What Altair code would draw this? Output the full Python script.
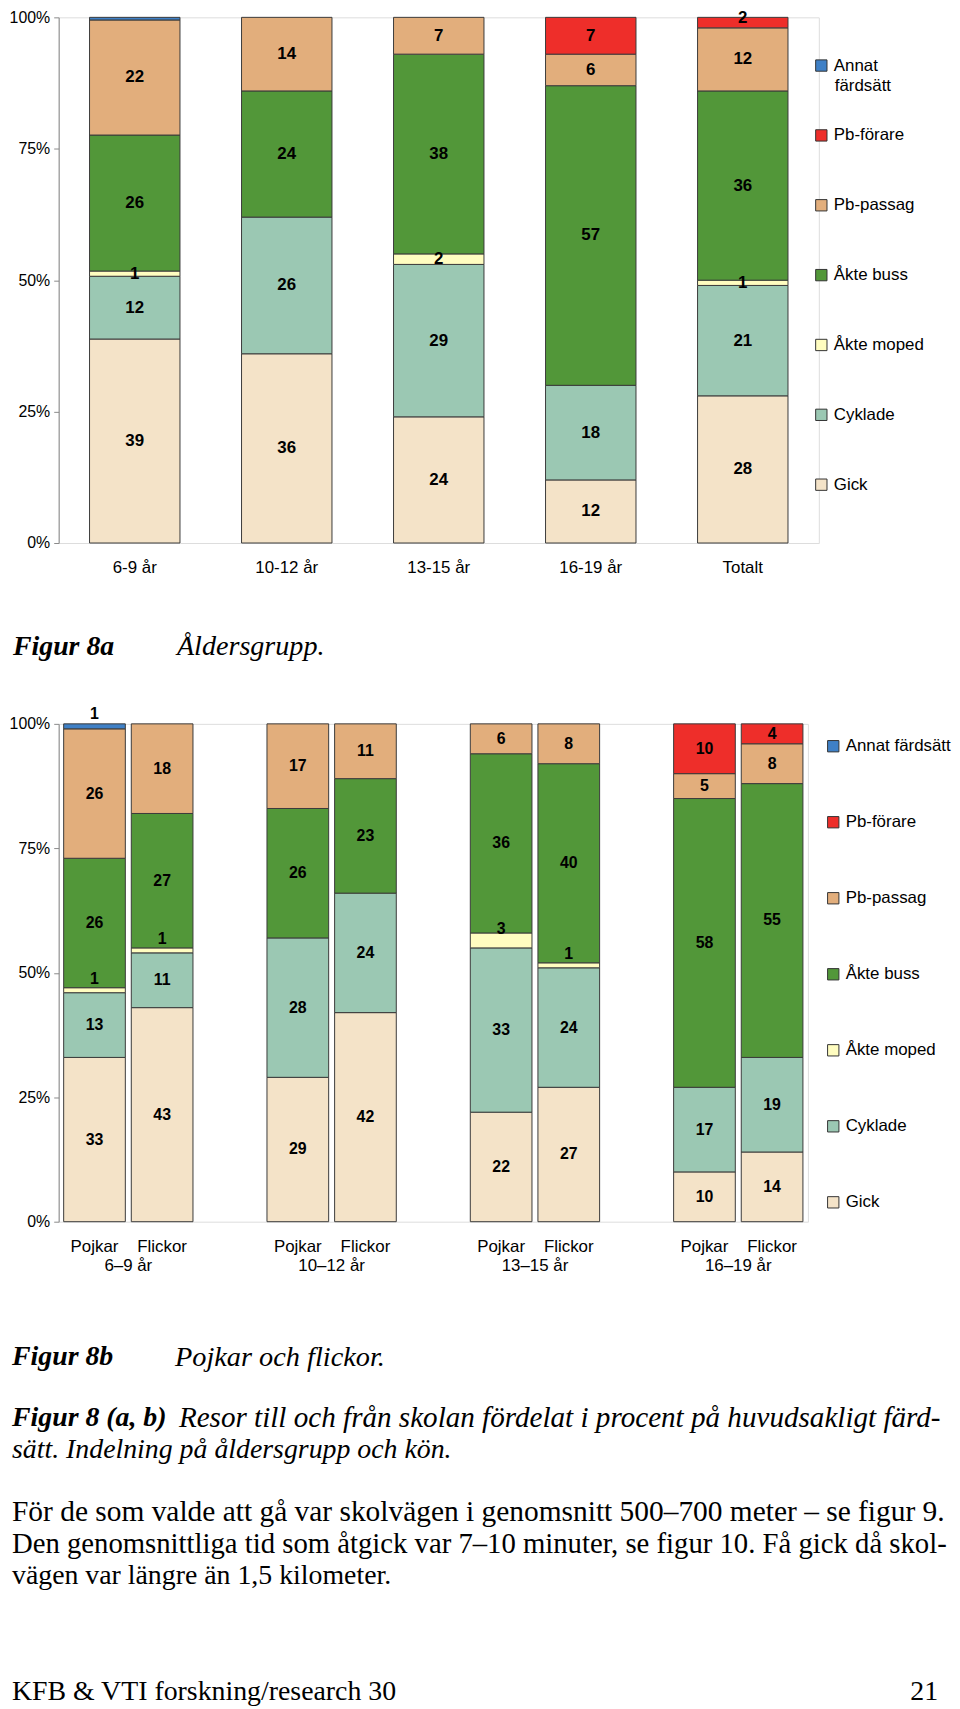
import altair as alt
import pandas as pd

# ---------------- data ----------------
kategorier = ["Gick", "Cyklade", "Åkte moped", "Åkte buss", "Pb-passag", "Pb-förare", "Annat färdsätt"]
legend_order = ["Annat färdsätt", "Pb-förare", "Pb-passag", "Åkte buss", "Åkte moped", "Cyklade", "Gick"]
legend_colors = ["#3F80C6", "#EE2E2A", "#E2AE7C", "#529739", "#FFFDC0", "#9BC8B3", "#F4E3C8"]

# Figur 8a - åldersgrupp
alder_a = ["6-9 år", "10-12 år", "13-15 år", "16-19 år", "Totalt"]
a_gick = [39, 36, 24, 12, 28]
a_cyklade = [12, 26, 29, 18, 21]
a_moped = [1, 0, 2, 0, 1]
a_buss = [26, 24, 38, 57, 36]
a_passag = [22, 14, 7, 6, 12]
a_forare = [0, 0, 0, 7, 2]
a_annat = [0.5, 0, 0, 0, 0]

# Figur 8b - pojkar och flickor
alder_b = ["6–9 år", "10–12 år", "13–15 år", "16–19 år"]
kon = ["Pojkar", "Flickor"]
# order: 6-9 P, 6-9 F, 10-12 P, 10-12 F, 13-15 P, 13-15 F, 16-19 P, 16-19 F
b_gick = [33, 43, 29, 42, 22, 27, 10, 14]
b_cyklade = [13, 11, 28, 24, 33, 24, 17, 19]
b_moped = [1, 1, 0, 0, 3, 1, 0, 0]
b_buss = [26, 27, 26, 23, 36, 40, 58, 55]
b_passag = [26, 18, 17, 11, 6, 8, 5, 8]
b_forare = [0, 0, 0, 0, 0, 0, 10, 4]
b_annat = [1, 0, 0, 0, 0, 0, 0, 0]

cap_a = ["Figur 8a", "Åldersgrupp."]
cap_b = ["Figur 8b", "Pojkar och flickor."]
fig_caption = ["Figur 8 (a, b)",
               "Resor till och från skolan fördelat i procent på huvudsakligt färd-",
               "sätt. Indelning på åldersgrupp och kön."]
paragraph = ["För de som valde att gå var skolvägen i genomsnitt 500–700 meter – se figur 9.",
             "Den genomsnittliga tid som åtgick var 7–10 minuter, se figur 10. Få gick då skol-",
             "vägen var längre än 1,5 kilometer."]
footer = ["KFB & VTI forskning/research 30", "21"]

# ---------------- tables ----------------
series_a = [a_gick, a_cyklade, a_moped, a_buss, a_passag, a_forare, a_annat]
rows = []
for gi, g in enumerate(alder_a):
    for ci, k in enumerate(kategorier):
        rows.append({"grupp": g, "kategori": k, "ord": ci, "value": series_a[ci][gi]})
df_a = pd.DataFrame(rows)

series_b = [b_gick, b_cyklade, b_moped, b_buss, b_passag, b_forare, b_annat]
rows = []
i = 0
for a in alder_b:
    for s in kon:
        for ci, k in enumerate(kategorier):
            rows.append({"alder": a, "kon": s, "grupp": a + "|" + s, "kategori": k,
                         "ord": ci, "value": series_b[ci][i]})
        i += 1
df_b = pd.DataFrame(rows)

FONT = "Liberation Sans"
SERIF = "Liberation Serif"

color_scale = alt.Scale(domain=legend_order, range=legend_colors)

y_axis = alt.Axis(title=None, format="%", values=[0, 0.25, 0.5, 0.75, 1], grid=False,
                  domainColor="#8a8a8a", tickColor="#8a8a8a", tickSize=5,
                  labelFontSize=16, labelPadding=4, labelColor="black", labelFont=FONT)


def text_layer(txt, x, y, size=28, weight="normal", style="normal", align="left", font=SERIF):
    return alt.Chart(pd.DataFrame({"t": [txt]})).mark_text(
        align=align, baseline="middle", fontSize=size, fontWeight=weight,
        fontStyle=style, font=font, color="black"
    ).encode(text="t:N", x=alt.value(x), y=alt.value(y))


# ---------------- chart a ----------------
W_A, H_A = 765, 529
base_a = alt.Chart(df_a).transform_filter("datum.value > 0").transform_stack(
    stack="value", groupby=["grupp"], as_=["y0", "y1"],
    sort=[alt.SortField("ord", order="ascending")], offset="normalize"
).transform_calculate(
    ly="datum.y1 > 0.995 && datum.value < 3 ? datum.y1 - 0.001 : (datum.y0 + datum.y1) / 2",
    txt="datum.value >= 1 ? format(datum.value, 'd') : ''"
)
x_a = alt.X("grupp:N", sort=alder_a,
            scale=alt.Scale(paddingInner=0.405, paddingOuter=0.203),
            axis=alt.Axis(title=None, labelAngle=0, ticks=False, tickSize=0, domain=False,
                          labelFontSize=17, labelPadding=17, labelColor="black", labelFont=FONT))
bars_a = base_a.mark_bar(stroke="#3a3a3a", strokeWidth=1).encode(
    x=x_a,
    y=alt.Y("y0:Q", scale=alt.Scale(domain=[0, 1]), axis=y_axis),
    y2="y1:Q",
    color=alt.Color("kategori:N", scale=color_scale, legend=alt.Legend(
        title=None, orient="none", legendX=759, legendY=40, symbolType="square",
        symbolSize=130, symbolStrokeColor="#333", symbolStrokeWidth=1, symbolOpacity=1,
        labelFontSize=17, labelFont=FONT, labelColor="black", rowPadding=52.3,
        labelExpr="datum.label == 'Annat färdsätt' ? 'Annat' : datum.label"))
)
labels_a = base_a.mark_text(fontWeight="bold", fontSize=17, font=FONT, color="black",
                            baseline="middle").encode(
    x=alt.X("grupp:N", sort=alder_a), y=alt.Y("ly:Q"), text="txt:N")

chart_a = alt.layer(
    bars_a, labels_a,
    text_layer("färdsätt", 781, 69, size=17, font=FONT),
    text_layer(cap_a[0], -46, 634, size=28, weight="bold", style="italic"),
    text_layer(cap_a[1], 119, 634, size=28.3, style="italic"),
).properties(width=W_A, height=H_A)

# ---------------- chart b ----------------
W_B, H_B = 754, 501
base_b = alt.Chart(df_b).transform_filter("datum.value > 0").transform_stack(
    stack="value", groupby=["grupp"], as_=["y0", "y1"],
    sort=[alt.SortField("ord", order="ascending")], offset="normalize"
).transform_calculate(
    ly="datum.y1 > 0.995 && datum.value < 3 ? datum.y1 + 0.02 : "
       "(datum.kategori == 'Åkte moped' ? (datum.y0 + datum.y1) / 2 + 0.022 : (datum.y0 + datum.y1) / 2)",
    txt="datum.value >= 1 ? format(datum.value, 'd') : ''"
)
x_b = alt.X("alder:N", sort=alder_b,
            scale=alt.Scale(paddingInner=0.364, paddingOuter=0.0245),
            axis=alt.Axis(title=None, labelAngle=0, ticks=False, tickSize=0, domain=False,
                          labelFontSize=17, labelPadding=36, labelColor="black", labelFont=FONT))
xo_b = alt.XOffset("kon:N", sort=kon, scale=alt.Scale(paddingInner=0.088, paddingOuter=0))
bars_b = base_b.mark_bar(stroke="#3a3a3a", strokeWidth=1).encode(
    x=x_b, xOffset=xo_b,
    y=alt.Y("y0:Q", scale=alt.Scale(domain=[0, 1]), axis=y_axis),
    y2="y1:Q",
    color=alt.Color("kategori:N", scale=color_scale, legend=alt.Legend(
        title=None, orient="none", legendX=771, legendY=14, symbolType="square",
        symbolSize=130, symbolStrokeColor="#333", symbolStrokeWidth=1, symbolOpacity=1,
        labelFontSize=17, labelFont=FONT, labelColor="black", rowPadding=58.5, labelLimit=300))
)
labels_b = base_b.mark_text(fontWeight="bold", fontSize=16, font=FONT, color="black",
                            baseline="middle").encode(
    x=alt.X("alder:N", sort=alder_b), xOffset=alt.XOffset("kon:N", sort=kon),
    y=alt.Y("ly:Q"), text="txt:N")
kon_labels = alt.Chart(df_b).transform_filter("datum.kategori == 'Gick'").mark_text(
    fontSize=17, font=FONT, color="black", baseline="middle").encode(
    x=alt.X("alder:N", sort=alder_b), xOffset=alt.XOffset("kon:N", sort=kon),
    y=alt.value(H_B + 25), text="kon:N")

chart_b = alt.layer(
    bars_b, labels_b, kon_labels,
    text_layer(cap_b[0], -47, 637, size=28, weight="bold", style="italic"),
    text_layer(cap_b[1], 117, 637, size=28.5, style="italic"),
    text_layer(fig_caption[0], -47, 699, size=28, weight="bold", style="italic"),
    text_layer(fig_caption[1], 121, 699, size=29.3, style="italic"),
    text_layer(fig_caption[2], -47, 731, size=28, style="italic"),
    text_layer(paragraph[0], -47, 793, size=29.6),
    text_layer(paragraph[1], -47, 825, size=28.9),
    text_layer(paragraph[2], -47, 858, size=28),
    text_layer(footer[0], -47, 974, size=28),
    text_layer(footer[1], 885, 974, size=28, align="right"),
).properties(width=W_B, height=H_B)

chart = alt.vconcat(chart_a, chart_b, spacing=43).resolve_scale(
    color="shared"
).resolve_legend(color="independent").configure_view(stroke=None).configure(font=FONT).properties(
    padding={"left": 0, "top": -5, "right": 0, "bottom": 0})

chart.save("out.html", embed_options={"renderer": "svg", "actions": False})
